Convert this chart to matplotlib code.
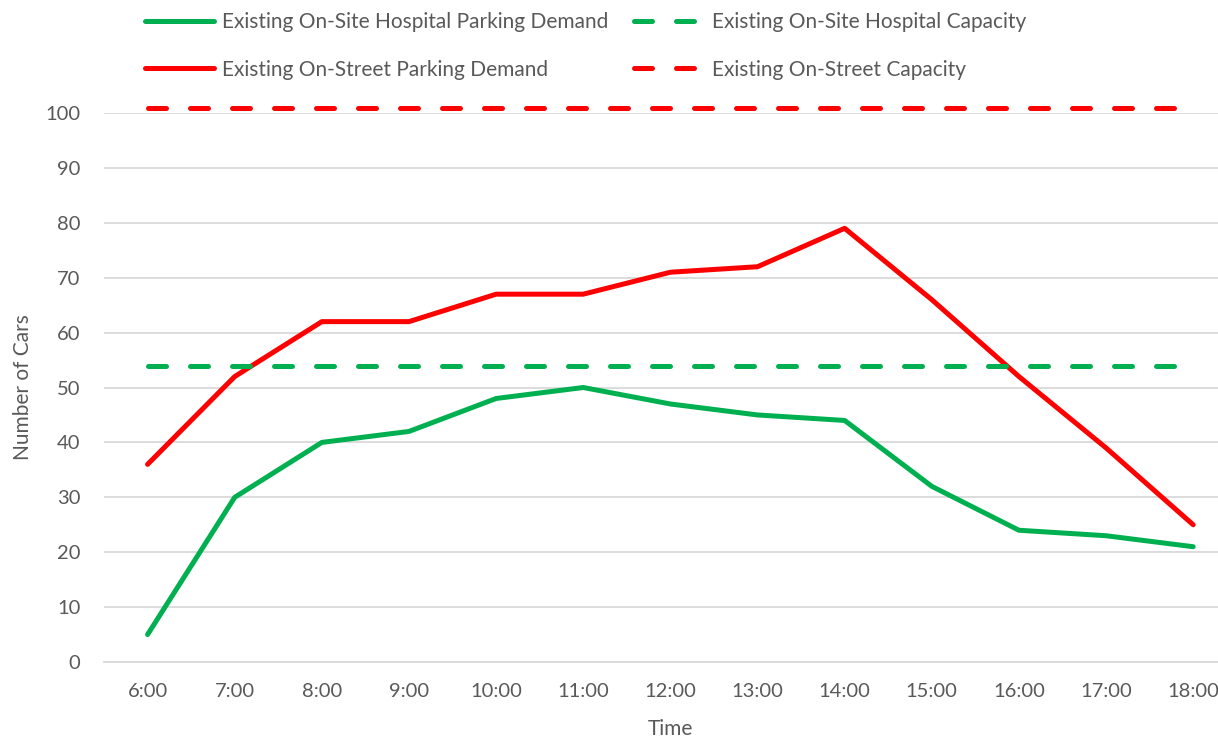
import numpy as np
import matplotlib.pyplot as plt

# data
times = ['6:00', '7:00', '8:00', '9:00', '10:00', '11:00', '12:00',
         '13:00', '14:00', '15:00', '16:00', '17:00', '18:00']
hospital_demand = [5, 30, 40, 42, 48, 50, 47, 45, 44, 32, 24, 23, 21]
street_demand = [36, 52, 62, 62, 67, 67, 71, 72, 79, 66, 52, 39, 25]
hospital_capacity = [54] * len(times)
street_capacity = [101] * len(times)

GREEN = '#00B050'
RED = '#FF0000'
GREY = '#595959'

plt.rcParams['font.family'] = ['Lato', 'DejaVu Sans']

fig = plt.figure(figsize=(12.18, 7.42), dpi=100)
axs = fig.add_axes([0.0854, 0.1078, 0.93, 0.7399])

x = np.arange(len(times))
lw = 3.6
dash = (3.6, 4.8)

l1, = axs.plot(x, hospital_demand, color=GREEN, linewidth=lw,
               solid_capstyle='round', solid_joinstyle='round', clip_on=False)
l2, = axs.plot(x, street_demand, color=RED, linewidth=lw,
               solid_capstyle='round', solid_joinstyle='round', clip_on=False)
l3, = axs.plot(x, hospital_capacity, color=GREEN, linewidth=lw,
               dashes=dash, dash_capstyle='round', clip_on=False)
l4, = axs.plot(x, street_capacity, color=RED, linewidth=lw,
               dashes=dash, dash_capstyle='round', clip_on=False)

#Axis
axs.set_xlim(-0.5, len(times) - 0.5)
axs.set_ylim(0, 100)
axs.set_yticks(np.arange(0, 101, 10))
axs.set_xticks(x)
axs.set_xticklabels(times)
axs.tick_params(axis='both', length=0, labelsize=14.5, colors=GREY)
axs.tick_params(axis='y', pad=17)
axs.tick_params(axis='x', pad=15)
axs.grid(axis='y', color='#D9D9D9', linewidth=1.3)
axs.set_axisbelow(True)
for s in ['top', 'right', 'left']:
    axs.spines[s].set_visible(False)
axs.spines['bottom'].set_color('#D9D9D9')
axs.spines['bottom'].set_linewidth(1.3)

axs.set_xlabel('Time', fontsize=15, color=GREY, labelpad=14)
axs.set_ylabel('Number of Cars', fontsize=15, color=GREY, labelpad=9)

fig.legend([l1, l2, l3, l4],
           ['Existing On-Site Hospital Parking Demand',
            'Existing On-Street Parking Demand',
            'Existing On-Site Hospital Capacity',
            'Existing On-Street Capacity'],
           ncol=2, loc='upper left', bbox_to_anchor=(0.1036, 1.009),
           frameon=False, fontsize=15, labelcolor=GREY,
           handlelength=3.3, handletextpad=0.4, columnspacing=1.25,
           labelspacing=1.32)

plt.savefig('out.png', dpi=100)
